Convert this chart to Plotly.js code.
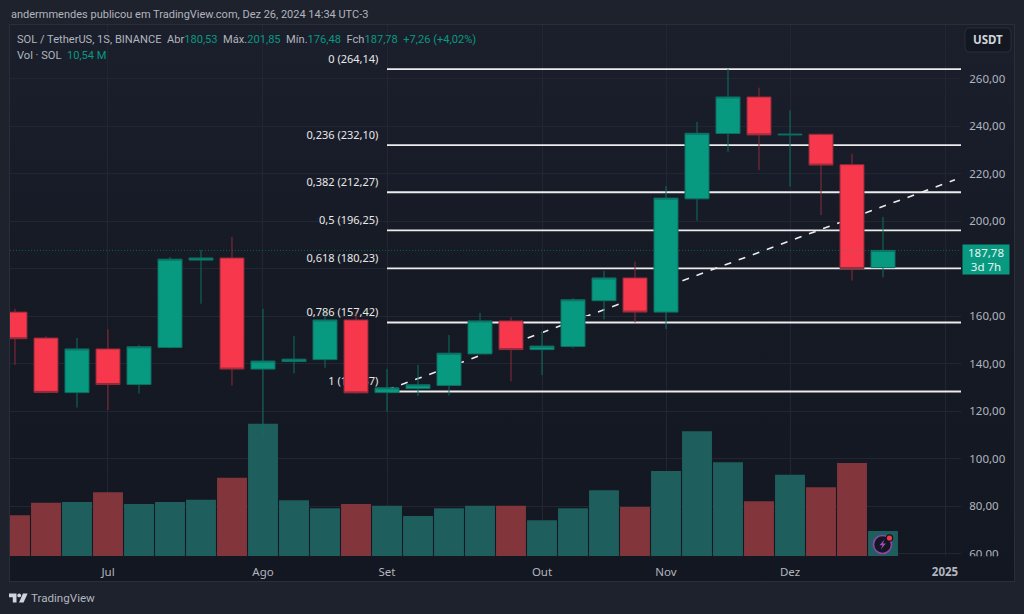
<!DOCTYPE html>
<html><head><meta charset="utf-8">
<script src="https://cdn.plot.ly/plotly-3.0.1.min.js"></script>
<style>
html,body{margin:0;padding:0;background:#1e222d;width:1024px;height:614px;overflow:hidden}
#frame{position:absolute;left:9px;top:24px;width:1004px;height:556px;border:1px solid #2a2e39;background:linear-gradient(#1b1f2c 0,#161a25 45%,#131722 100%)}
#chart{position:absolute;left:0;top:0;width:1024px;height:614px}
svg.over{position:absolute;pointer-events:none}
</style></head><body>
<div id="frame"></div>
<div id="chart"></div>
<svg class="over" style="left:9px;top:593px" width="20" height="10" viewBox="0 0 20 10">
  <path d="M0 0.5H7.5V9.5H3.8V4.2H0Z" fill="#d1d4dc"/><circle cx="10.2" cy="2.4" r="1.9" fill="#d1d4dc"/><path d="M14 0.5H18.6L14.6 9.5H10Z" fill="#d1d4dc"/>
</svg>
<svg class="over" style="left:870px;top:531px" width="26" height="26" viewBox="0 0 26 26">
  <circle cx="12.5" cy="13.5" r="9" fill="#131722" stroke="#9a3fb0" stroke-width="1.6"/>
  <path d="M14.5 8.5L9.5 14.3H12.4L10.8 18.6L15.8 12.6H12.9Z" fill="#a548c4"/>
  <circle cx="19.5" cy="7" r="3.8" fill="#131722"/><circle cx="19.5" cy="7" r="2.6" fill="#f7374b"/>
</svg>
<script>
const weeks = ['2024-06-10','2024-06-17','2024-06-24','2024-07-01','2024-07-08','2024-07-15','2024-07-22','2024-07-29','2024-08-05','2024-08-12','2024-08-19','2024-08-26','2024-09-02','2024-09-09','2024-09-16','2024-09-23','2024-09-30','2024-10-07','2024-10-14','2024-10-21','2024-10-28','2024-11-04','2024-11-11','2024-11-18','2024-11-25','2024-12-02','2024-12-09','2024-12-16','2024-12-23'];
const futureWeeks = ['2024-12-30','2025-01-06','2025-01-13'];
const opens  = [161.8,150.9,127.9,146.3,131.3,146.9,183.7,184.6,137.8,141.0,141.8,158.5,127.9,129.6,130.9,144.2,158.1,146.0,147.3,166.6,176.2,161.8,209.5,237.0,252.4,236.4,236.7,223.9,180.53];
const highs  = [163.2,151.6,150.9,154.6,148.0,185.0,188.0,193.5,163.2,151.8,161.6,161.5,137.9,139.6,152.2,161.5,159.7,153.2,167.7,179.2,183.0,214.8,241.9,264.2,256.3,246.8,237.0,228.5,201.85];
const lows   = [139.6,127.6,121.6,120.6,127.5,146.5,165.3,130.9,109.7,136.0,138.4,127.4,119.9,126.5,126.7,144.0,132.7,135.2,146.6,158.7,157.4,154.7,200.3,229.3,221.6,214.7,202.6,175.1,176.48];
const closes = [150.6,128.0,146.3,131.3,147.2,184.1,184.6,137.8,141.2,142.0,158.5,127.8,129.9,131.2,144.5,158.1,146.0,147.5,167.0,176.2,161.8,209.8,237.1,252.4,236.4,236.7,223.7,180.1,187.78];
const volumes = [17.16,22.47,22.77,26.85,21.92,22.77,23.74,33.0,55.8,23.5,20.1,21.9,21.2,16.9,20.1,21.2,21.2,15.05,20.1,27.7,20.66,35.8,52.6,39.5,23.06,34.3,29.0,39.2,10.54];
const fibLevels = [0,0.236,0.382,0.5,0.618,0.786,1];
const fibPrices = [264.14,232.10,212.27,196.25,180.23,157.42,128.37];
const priceTicks = [60,80,100,120,140,160,180,200,220,240,260];
const priceTickLabels = ['60,00','80,00','100,00','120,00','140,00','160,00','','200,00','220,00','240,00','260,00'];
const monthTicks = ['2024-07-01','2024-08-05','2024-09-02','2024-10-07','2024-11-04','2024-12-02','2025-01-06'];
const monthLabels = ['Jul','Ago','Set','Out','Nov','Dez','<b>2025</b>'];
const trendPrices = [129.0,217.5];
const summary = {high:201.85,low:176.48,change:7.26,changePct:4.02};

const UP='#089981', DOWN='#f7374b';
const PRICE_RANGE=[59.1,282.7];
const XRANGE=[-0.161,30.516];
const allCats=weeks.concat(futureWeeks);
const comma=(v)=>v.toFixed(2).replace('.',',');
const last=closes.length-1;
const fibX=[weeks[12],futureWeeks[2]];
const FONT='"Noto Sans", sans-serif';
const FONT2='Roboto, sans-serif';

const traces=[];
fibPrices.forEach((p)=>{
  traces.push({type:'scatter',mode:'lines',x:fibX,y:[p,p],xaxis:'x',yaxis:'y',
    line:{color:'#ececec',width:1.8},hoverinfo:'skip',showlegend:false});
});
traces.push({type:'scatter',mode:'text',xaxis:'x',yaxis:'y',
  x:fibPrices.map(()=>weeks[12]),y:fibPrices.map((p)=>p+1.5),
  text:fibLevels.map((l,i)=>String(l).replace('.',',')+' ('+comma(fibPrices[i])+')\u00A0\u00A0\u00A0'),
  textposition:'top left',textfont:{family:FONT,size:11,color:'#e8e8e8'},
  hoverinfo:'skip',showlegend:false});
traces.push({type:'bar',x:weeks,y:volumes,xaxis:'x',yaxis:'y2',width:0.965,
  marker:{color:closes.map((c,i)=>c>=opens[i]?'rgba(31,98,97,0.95)':'rgba(136,55,60,0.95)'),line:{width:0}},
  hoverinfo:'skip',showlegend:false});
traces.push({type:'candlestick',x:weeks,open:opens,high:highs,low:lows,close:closes,xaxis:'x',yaxis:'y3',
  whiskerwidth:0,
  increasing:{line:{color:'#0c6f61',width:1},fillcolor:UP},
  decreasing:{line:{color:'#8c2b3a',width:1},fillcolor:DOWN},
  hoverinfo:'skip',showlegend:false});

const legendLine1='<span style="color:#b2b5be">SOL / TetherUS, 1S, BINANCE  Abr</span><span style="color:#089981">'+comma(opens[last])+'</span>'+
 '<span style="color:#b2b5be">  Máx.</span><span style="color:#089981">'+comma(summary.high)+'</span>'+
 '<span style="color:#b2b5be">  Mín.</span><span style="color:#089981">'+comma(summary.low)+'</span>'+
 '<span style="color:#b2b5be">  Fch</span><span style="color:#089981">'+comma(closes[last])+'  +'+comma(summary.change)+' (+'+comma(summary.changePct)+'%)</span>';
const legendLine2='<span style="color:#b2b5be">Vol · SOL  </span><span style="color:#089981">'+comma(volumes[last])+' M</span>';

const pap=(px,py)=>({x:(px-10)/951,y:(556-py)/531});
function note(text,px,py,opts){
  const p=pap(px,py);
  return Object.assign({text,xref:'paper',yref:'paper',x:p.x,y:p.y,xanchor:'left',yanchor:'middle',showarrow:false,
    font:{family:FONT2,size:11.1,color:'#b2b5be'}},opts||{});
}
const layout={
  width:1024,height:614,
  margin:{l:10,r:63,t:25,b:58,pad:0},
  paper_bgcolor:'rgba(0,0,0,0)',plot_bgcolor:'rgba(0,0,0,0)',
  showlegend:false,boxgap:0.226,boxgroupgap:0,barmode:'overlay',dragmode:false,
  xaxis:{type:'category',categoryorder:'array',categoryarray:allCats,range:XRANGE,
    tickmode:'array',tickvals:monthTicks,ticktext:monthLabels,
    showgrid:true,gridcolor:'#222632',gridwidth:1,zeroline:false,showline:false,
    ticks:'outside',ticklen:5,tickcolor:'rgba(0,0,0,0)',tickfont:{family:FONT,size:11.5,color:'#b2b5be'},
    rangeslider:{visible:false},fixedrange:true},
  yaxis:{range:PRICE_RANGE,side:'right',tickmode:'array',tickvals:priceTicks,ticktext:priceTickLabels,
    showgrid:true,gridcolor:'#222632',gridwidth:1,zeroline:false,showline:false,
    ticks:'outside',ticklen:5,tickcolor:'rgba(0,0,0,0)',tickfont:{family:FONT,size:11.5,color:'#b2b5be'},fixedrange:true},
  yaxis2:{overlaying:'y',range:[0,223.9],visible:false,fixedrange:true},
  yaxis3:{overlaying:'y',range:PRICE_RANGE,visible:false,fixedrange:true},
  shapes:[
    {type:'line',layer:'below',xref:'x',yref:'y',x0:12,x1:30.32,y0:trendPrices[0],y1:trendPrices[1],
      line:{color:'#ececec',width:1.6,dash:'7px,8px'}},
    {type:'line',layer:'above',xref:'paper',yref:'y',x0:0,x1:1,y0:closes[last],y1:closes[last],
      line:{color:'rgba(8,153,129,0.5)',width:1,dash:'1px,2px'}},
    {type:'rect',layer:'above',xref:'paper',yref:'paper',x0:1.001,x1:1.055,y0:-0.047,y1:-0.0005,
      fillcolor:'#131722',line:{width:0}},
    {type:'path',layer:'above',xref:'paper',yref:'paper',xsizemode:'pixel',ysizemode:'pixel',xanchor:(965-10)/951,yanchor:(556-52)/531,
      path:'M4,0 H42 Q46,0 46,4 V20 Q46,24 42,24 H4 Q0,24 0,20 V4 Q0,0 4,0 Z',
      fillcolor:'#131722',line:{color:'#2a2e39',width:1}}
  ],
  annotations:[
    note('andermmendes publicou em TradingView.com, Dez 26, 2024 14:34 UTC-3',9,14,{font:{family:FONT2,size:11,color:'#b2b5be'}}),
    note(legendLine1,15,39,{}),
    note(legendLine2,15,55,{}),
    note('<b>USDT</b>',988,40,{xanchor:'center',font:{family:FONT,size:11.5,color:'#d1d4dc'}}),
    {text:comma(closes[last])+'<br>3d 7h',xref:'paper',yref:'y',x:(962-10)/951,y:closes[last],xanchor:'left',yanchor:'top',
      yshift:6,showarrow:false,width:46,height:29,align:'center',bgcolor:UP,borderpad:0,
      font:{family:FONT,size:11.5,color:'#e8f5f2'}},
    note('TradingView',29,598,{font:{family:FONT2,size:11.6,color:'#b2b5be'}})
  ]
};
Plotly.newPlot('chart',traces,layout,{displayModeBar:false,staticPlot:true});
</script>
</body></html>
